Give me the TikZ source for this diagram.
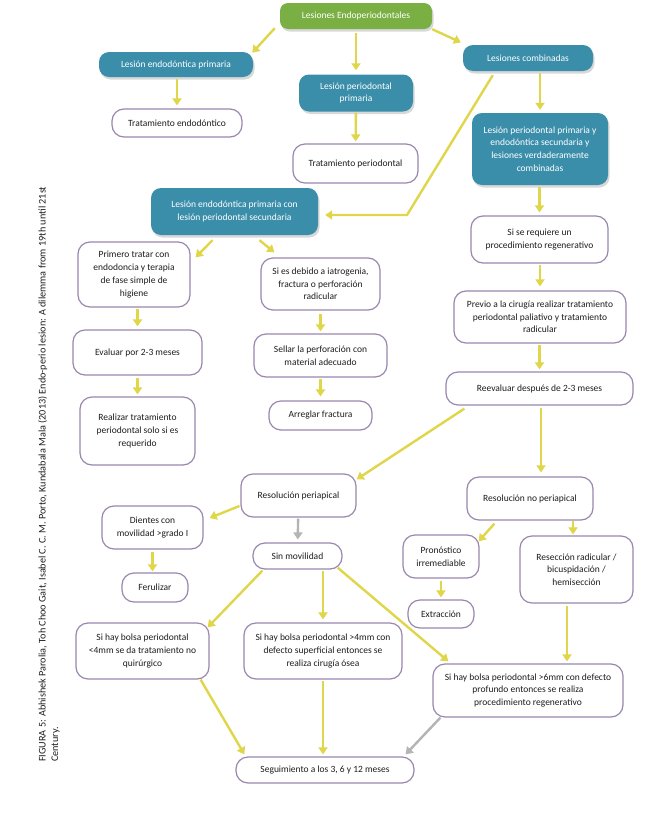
\documentclass[tikz,border=0pt]{standalone}
\usepackage{fontspec}
\setmainfont{Carlito}
\usetikzlibrary{arrows.meta,shadows,calc}
\definecolor{tealc}{HTML}{3B8EAA}
\definecolor{greenc}{HTML}{7AAF43}
\definecolor{arrowy}{HTML}{E0D64A}
\definecolor{bordp}{HTML}{9A86AE}
\definecolor{grayarr}{HTML}{B4B4B4}
\definecolor{txtc}{HTML}{1E1E1E}
\begin{document}
\begin{tikzpicture}[x=1pt,y=-1pt,
  every node/.style={font=\fontsize{9.5}{12.7}\selectfont, align=center, inner sep=0pt},
  wbox/.style={draw=bordp, line width=1.2pt, fill=white, rounded corners=12pt, text=txtc},
  tbox/.style={fill=tealc, rounded corners=10pt, text=white, drop shadow={shadow xshift=1.5pt, shadow yshift=-2.5pt, opacity=0.3}},
  gbox/.style={fill=greenc, rounded corners=8pt, text=white, drop shadow={shadow xshift=1.5pt, shadow yshift=-2.5pt, opacity=0.3}},
  yarr/.style={draw=arrowy, line width=2.4pt, -{Triangle[length=7pt,width=9pt]}},
  garr/.style={yarr, draw=grayarr},
  sz/.style 2 args={minimum width=#1pt, minimum height=#2pt}
]
\fill[white] (0,0) rectangle (672,833);
\useasboundingbox (0,0) rectangle (672,833);

% caption
\node[rotate=90, anchor=north west, align=left, text=txtc, font=\fontsize{10.2}{12.5}\selectfont] (cap) at (38,762)
  {FIGURA 5: Abhishek Parolia, Toh Choo Gait, Isabel C. C. M. Porto, Kundabala Mala (2013) Endo-perio lesion: A dilemma from 19th until 21st\\Century.};

% nodes
\node[gbox, sz={152}{26}] (g) at (356,16) {Lesiones Endoperiodontales};
\node[tbox, sz={154}{25}] (lep) at (176,64.5) {Lesión endodóntica primaria};
\node[tbox, sz={114}{37}] (lpp) at (356,93) {Lesión periodontal\\primaria};
\node[tbox, sz={130}{26}] (comb) at (528,58) {Lesiones combinadas};
\node[wbox, sz={130}{28}] (te) at (177,123) {Tratamiento endodóntico};
\node[wbox, sz={125}{39}] (tp) at (355.5,163.5) {Tratamiento periodontal};
\node[tbox, sz={136}{72}] (bt) at (540,149) {Lesión periodontal primaria y\\endodóntica secundaria y\\lesiones verdaderamente\\combinadas};
\node[tbox, sz={167}{47}] (lepc) at (234.5,211.5) {Lesión endodóntica primaria con\\lesión periodontal secundaria};
\node[wbox, sz={137}{47}] (sr) at (539.5,239.5) {Si se requiere un\\procedimiento regenerativo};
\node[wbox, sz={112}{65}] (primero) at (134,274.5) {Primero tratar con\\endodoncia y terapia\\de fase simple de\\higiene};
\node[wbox, sz={119}{52}] (sid) at (320.5,284) {Si es debido a iatrogenia,\\fractura o perforación\\radicular};
\node[wbox, sz={172}{52}] (prev) at (540,317) {Previo a la cirugía realizar tratamiento\\periodontal paliativo y tratamiento\\radicular};
\node[wbox, sz={129}{45}] (evaluar) at (137.5,352.5) {Evaluar por 2-3 meses};
\node[wbox, sz={133}{43}] (sellar) at (320.5,355.5) {Sellar la perforación con\\material adecuado};
\node[wbox, sz={187}{33}] (reev) at (539.5,388.5) {Reevaluar después de 2-3 meses};
\node[wbox, sz={103}{29}] (arreglar) at (320.5,415.5) {Arreglar fractura};
\node[wbox, sz={115}{68}] (realizar) at (137.5,431) {Realizar tratamiento\\periodontal solo si es\\requerido};
\node[wbox, sz={115}{43}] (rp) at (298.5,495.5) {Resolución periapical};
\node[wbox, sz={126}{43}] (rnp) at (530,498.5) {Resolución no periapical};
\node[wbox, sz={101}{43}] (dientes) at (152.5,527.5) {Dientes con\\movilidad >grado I};
\node[wbox, sz={89}{26}] (sm) at (297.5,556) {Sin movilidad};
\node[wbox, sz={76}{43}] (pron) at (441,556.5) {Pronóstico\\irremediable};
\node[wbox, sz={113}{67}] (res) at (576.5,569.5) {Resección radicular /\\bicuspidación /\\hemisección};
\node[wbox, sz={66}{29}] (ferul) at (155,587.5) {Ferulizar};
\node[wbox, sz={66}{28}] (extr) at (441,614) {Extracción};
\node[wbox, sz={133}{56}] (b4) at (142.5,651) {Si hay bolsa periodontal\\<4mm se da tratamiento no\\quirúrgico};
\node[wbox, sz={158}{56}] (b4b) at (323,651) {Si hay bolsa periodontal >4mm con\\defecto superficial entonces se\\realiza cirugía ósea};
\node[wbox, sz={190}{53}] (b6) at (528,690.5) {Si hay bolsa periodontal >6mm con defecto\\profundo entonces se realiza\\procedimiento regenerativo};
\node[wbox, sz={178}{26}] (seg) at (325,770) {Seguimiento a los 3, 6 y 12 meses};

% helper coordinates
\coordinate (bend1) at (407,215);
\coordinate (c1) at ([xshift=-9.5pt]res.south);
\coordinate (c2) at ([xshift=43pt]rnp.south);

% connectors
\draw[yarr] ([xshift=-5pt,yshift=1pt]g.south west) -- ([xshift=-1pt,yshift=-1pt]lep.north east);
\draw[yarr, shorten <=4pt, shorten >=4pt] (g) -- (lpp);
\draw[yarr, shorten >=1pt] (g.south east) -- ([xshift=-1pt,yshift=2pt]comb.north west);
\draw[yarr, shorten <=2pt, shorten >=3pt] (lep.south -| te.north) -- (te.north);
\draw[yarr, shorten <=1pt, shorten >=2pt] (lpp) -- (tp);
\draw[yarr, shorten <=2pt, shorten >=3pt] (comb.south -| bt.north) -- (bt.north);
\draw[yarr, shorten <=2pt, shorten >=3pt] (bt.south -| sr.north) -- (sr.north);
\draw[yarr, shorten <=1pt, shorten >=4pt] (sr.south -| prev.north) -- (prev.north);
\draw[yarr, shorten <=1pt, shorten >=2pt] (prev.south -| reev.north) -- (reev.north);
\draw[yarr, shorten <=2pt, shorten >=4pt] ([xshift=1.5pt]reev.south) -- ([xshift=1.5pt]reev.south |- rnp.north);
\draw[yarr, shorten >=7pt] ([xshift=30pt,yshift=-4pt]comb.south west) -- (bend1) -- (bend1 -| lepc.east);
\draw[yarr] ([xshift=-22pt,yshift=-5pt]lepc.south) -- ([xshift=5pt,yshift=-16pt]primero.north east);
\draw[yarr] ([xshift=25pt,yshift=-5pt]lepc.south) -- ([xshift=14pt,yshift=5pt]sid.north west);
\draw[yarr, shorten <=1pt, shorten >=3pt] (evaluar.north |- primero.south) -- (evaluar.north);
\draw[yarr, shorten <=2pt, shorten >=2pt] (evaluar) -- (realizar);
\draw[yarr, shorten <=3pt, shorten >=2pt] (sid) -- (sellar);
\draw[yarr, shorten <=1pt, shorten >=4pt] (sellar) -- (arreglar);
\draw[yarr] ([xshift=19pt,yshift=-3pt]reev.south west) -- ([yshift=-6pt]rp.north east);
\draw[yarr] ([xshift=-1pt,yshift=-10.5pt]rp.west) -- ([xshift=6pt,yshift=9.5pt]dientes.east);
\draw[garr, shorten <=1pt, shorten >=3pt] (rp) -- (sm);
\draw[yarr, shorten <=2pt, shorten >=1pt] (dientes.south) -- (dientes.south |- ferul.north);
\draw[yarr] ([xshift=10pt,yshift=-1pt]sm.south west) -- ([xshift=-2pt,yshift=-5pt]b4.north east);
\draw[yarr, shorten <=1pt, shorten >=3pt] (b4b.north |- sm.south) -- (b4b.north);
\draw[yarr] ([xshift=-5pt,yshift=2pt]sm.south east) -- ([xshift=16pt,yshift=2pt]b6.north west);
\draw[yarr] ([xshift=28pt,yshift=-3pt]rnp.south west) -- ([xshift=-1pt,yshift=-7pt]pron.north east);
\draw[yarr, shorten >=1pt] (c2) -- (c2 |- res.north);
\draw[yarr, shorten <=2pt, shorten >=2pt] (pron) -- (extr);
\draw[yarr, shorten <=2pt, shorten >=2pt] (c1) -- (c1 |- b6.north);
\draw[yarr] ([xshift=-9pt]b4.south east) -- ([xshift=9pt,yshift=2pt]seg.north west);
\draw[yarr, shorten <=1pt, shorten >=2pt] (b4b.south) -- (b4b.south |- seg.north);
\draw[garr] ([xshift=8pt]b6.south west) -- ([xshift=-9pt,yshift=2pt]seg.north east);
\end{tikzpicture}
\end{document}
